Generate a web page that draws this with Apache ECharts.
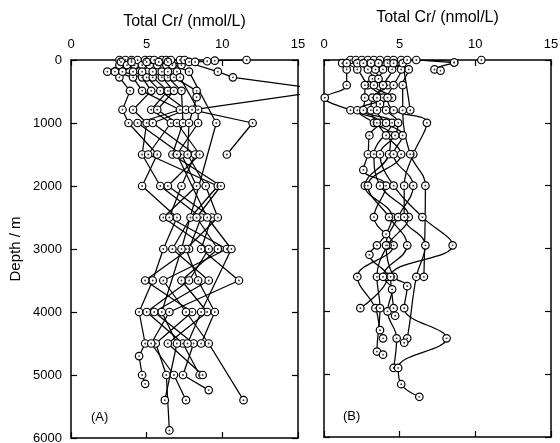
<!DOCTYPE html>
<html>
<head>
<meta charset="utf-8">
<script src="https://cdn.jsdelivr.net/npm/echarts/dist/echarts.min.js"></script>
<style>
  html, body { margin: 0; padding: 0; background: #fff; }
  #chart { width: 560px; height: 443px; }
</style>
</head>
<body>
<div id="chart"></div>
<script>
// each station: [depth (m), total Cr (nmol/L)]
// panel A
const A01 = [[0, 3.2], [80, 3.2], [185, 2.4], [275, 3.2], [490, 3.9], [790, 3.4], [1000, 3.8], [1500, 5.7], [2000, 4.7], [2500, 7.0], [3000, 6.1], [3500, 5.4], [4000, 4.5], [4500, 4.9], [4700, 4.5], [5000, 4.7], [5140, 4.9]];
const A02 = [[0, 3.6], [30, 3.3], [80, 3.7], [185, 2.9], [275, 4.1], [490, 4.7], [790, 7.2], [1000, 4.4], [1500, 7.3], [2000, 8.3], [2500, 6.1], [3000, 9.1], [3500, 7.8], [4000, 5.0], [4500, 7.4], [5000, 8.5]];
const A03 = [[0, 4.0], [80, 4.2], [185, 3.4], [275, 4.7], [490, 5.3], [790, 4.1], [1000, 5.0], [1500, 4.7], [2000, 5.9], [2500, 8.6], [3000, 7.8], [3500, 4.9], [4000, 8.0], [4500, 5.6], [5000, 6.3], [5880, 6.5]];
const A04 = [[0, 4.4], [30, 4.0], [80, 4.7], [185, 4.1], [275, 5.0], [490, 5.9], [790, 7.6], [1000, 5.4], [1500, 8.2], [2000, 7.3], [2500, 6.5], [3000, 10.3], [3500, 6.1], [4000, 7.6], [4500, 9.1], [5400, 11.4]];
const A05 = [[0, 4.9], [80, 5.2], [185, 4.7], [275, 5.4], [490, 6.4], [790, 5.3], [1000, 6.6], [1500, 5.1], [2000, 9.7], [2500, 7.9], [3000, 6.7], [3500, 9.1], [4000, 5.5], [4500, 8.1], [5000, 7.4], [5240, 9.1]];
const A06 = [[0, 5.2], [30, 5.0], [80, 5.7], [185, 5.4], [275, 6.0], [490, 6.8], [790, 5.7], [1000, 7.0], [1500, 8.5], [2000, 6.4], [2500, 9.3], [3000, 8.6], [3500, 11.1], [4000, 6.5], [4500, 5.3], [5000, 6.8], [5400, 7.6]];
const A07 = [[0, 5.5], [80, 6.3], [185, 6.0], [275, 6.4], [490, 7.3], [1000, 7.4], [1500, 6.7], [2000, 9.9], [2500, 8.3], [3000, 9.7], [3500, 7.3], [4000, 9.0], [4500, 6.4], [5000, 8.7]];
const A08 = [[0, 6.0], [30, 5.8], [80, 6.7], [185, 6.4], [275, 6.8], [490, 8.3], [590, 8.3], [1000, 7.8], [1500, 7.7], [2000, 8.9], [2500, 9.7], [3000, 7.6], [3500, 8.4], [4000, 9.5], [4500, 8.6]];
const A09 = [[0, 6.3], [80, 7.3], [185, 7.0], [275, 7.2], [790, 8.4], [1000, 8.4], [1500, 7.0], [2500, 9.0], [3000, 10.6], [4000, 8.6], [4500, 7.7]];
const A10 = [[0, 6.6], [30, 6.4], [185, 7.8], [1000, 9.6], [3000, 7.3], [4000, 6.0], [4500, 7.0], [5400, 6.2]];
const A11 = [[0, 7.2], [185, 9.7], [275, 10.7], [480, 17.0], [790, 8.0], [1000, 12.0], [1500, 10.3]];
const A12 = [[0, 7.5], [30, 7.8]];
const A13 = [[0, 11.6], [10, 9.5], [20, 9.0], [30, 8.2]];

// panel B
const B01 = [[0, 1.75], [50, 1.2], [150, 1.5], [400, 1.5], [600, 0.05], [800, 1.75], [1000, 3.7], [1200, 3.0], [1500, 2.9], [1750, 2.6], [2000, 4.1], [2500, 3.3], [2950, 4.6], [3450, 2.2], [3950, 3.4], [4300, 3.7], [4430, 3.9]];
const B02 = [[0, 2.1], [50, 1.5], [150, 2.2], [400, 2.9], [600, 3.9], [800, 2.2], [1000, 3.3], [1200, 4.4], [1500, 4.3], [2000, 2.7], [2500, 4.5], [2770, 4.1], [2950, 3.5], [3100, 3.0], [3450, 4.2], [3950, 2.4]];
const B03 = [[0, 2.5], [50, 2.2], [150, 2.9], [300, 3.2], [400, 2.7], [600, 2.7], [800, 2.6], [1000, 4.5], [1500, 3.3], [2000, 3.7], [2500, 5.6], [2950, 4.2], [3450, 3.5], [3950, 3.7], [4640, 3.5], [4690, 3.9]];
const B04 = [[0, 2.9], [50, 2.6], [150, 3.4], [300, 3.6], [400, 4.2], [600, 3.2], [800, 3.1], [1000, 3.5], [1200, 4.1], [1500, 5.1], [2000, 2.9], [2500, 4.3], [2950, 5.5], [3450, 3.9], [3650, 4.5], [4000, 4.2], [4430, 4.8], [4900, 4.6]];
const B05 = [[0, 3.3], [50, 3.1], [150, 3.9], [400, 3.3], [600, 4.5], [700, 3.7], [800, 3.5], [1000, 4.1], [1200, 5.2], [1500, 4.6], [2000, 5.9], [2500, 4.9], [2950, 4.1], [3450, 4.6], [3600, 5.5], [3950, 5.3], [4430, 8.1], [4900, 4.9], [5160, 5.1], [5360, 6.3]];
const B06 = [[0, 3.7], [50, 3.6], [150, 4.5], [400, 3.9], [600, 3.5], [800, 4.1], [1000, 4.9], [1200, 4.7], [1500, 3.7], [2000, 4.6], [2500, 6.5], [2950, 8.5], [3450, 4.4], [3950, 4.6], [4070, 4.7]];
const B07 = [[0, 4.2], [50, 4.2], [150, 5.1], [400, 4.6], [600, 4.2], [800, 4.6], [1000, 6.8], [1500, 5.9], [2000, 5.3], [2500, 5.3], [2950, 6.7], [3450, 6.1], [4430, 5.5], [4500, 5.3]];
const B08 = [[0, 4.6], [50, 4.6], [150, 5.6], [400, 5.2], [800, 5.2], [1500, 5.7], [2000, 6.7], [3450, 6.6]];
const B09 = [[0, 5.1], [50, 5.2], [800, 5.7]];
const B10 = [[0, 5.5], [40, 8.6], [150, 7.3], [170, 7.7]];
const B11 = [[0, 6.1], [40, 8.6]];
const B12 = [[0, 10.4]];

const stationsA = [A01, A02, A03, A04, A05, A06, A07, A08, A09, A10, A11, A12, A13];
const stationsB = [B01, B02, B03, B04, B05, B06, B07, B08, B09, B10, B11, B12];

const crTicks = [0, 5, 10, 15];
const depthTicks = [0, 1000, 2000, 3000, 4000, 5000, 6000];

const FONT = 'Liberation Sans';
const toXY = st => st.map(([d, v]) => [v, d]);

const chart = echarts.init(document.getElementById('chart'));

function xAxes(grid, gap) {
  const base = {
    gridIndex: grid,
    type: 'value',
    min: crTicks[0],
    max: crTicks[crTicks.length - 1],
    interval: crTicks[1] - crTicks[0],
    axisLine: { onZero: false, lineStyle: { color: '#000', width: 1.5 } },
    axisTick: { inside: true, length: 6, lineStyle: { color: '#000', width: 1.2 } },
    splitLine: { show: false }
  };
  return [
    Object.assign({}, base, {
      position: 'top',
      name: 'Total Cr/ (nmol/L)',
      nameLocation: 'middle',
      nameGap: gap,
      nameTextStyle: { color: '#000', fontSize: 16, fontFamily: FONT },
      axisLabel: { color: '#000', fontSize: 13, fontFamily: FONT, margin: 9 }
    }),
    Object.assign({}, base, { position: 'bottom', axisLabel: { show: false } })
  ];
}

function yAxes(grid, withLabels) {
  const base = {
    gridIndex: grid,
    type: 'value',
    inverse: true,
    min: depthTicks[0],
    max: depthTicks[depthTicks.length - 1],
    interval: depthTicks[1] - depthTicks[0],
    axisLine: { onZero: false, lineStyle: { color: '#000', width: 1.5 } },
    axisTick: { inside: true, length: 6, lineStyle: { color: '#000', width: 1.2 } },
    splitLine: { show: false }
  };
  const left = Object.assign({}, base, { position: 'left' });
  if (withLabels) {
    left.axisLabel = { color: '#000', fontSize: 13, fontFamily: FONT, margin: 9, formatter: v => String(v) };
    left.name = 'Depth / m';
    left.nameLocation = 'middle';
    left.nameGap = 48;
    left.nameTextStyle = { color: '#000', fontSize: 15, fontFamily: FONT };
  } else {
    left.axisLabel = { show: false };
  }
  return [left, Object.assign({}, base, { position: 'right', axisLabel: { show: false } })];
}

function panelSeries(stations, xi, yi, smooth) {
  const out = stations.map(st => ({
    type: 'line',
    xAxisIndex: xi,
    yAxisIndex: yi,
    data: toXY(st),
    showSymbol: false,
    smooth: smooth,
    clip: true,
    lineStyle: { color: '#000', width: 1.25 },
    z: 2
  }));
  const all = [].concat(...stations.map(toXY));
  out.push({
    type: 'scatter', xAxisIndex: xi, yAxisIndex: yi, data: all, clip: true,
    symbol: 'circle', symbolSize: 7.5,
    itemStyle: { color: '#fff', borderColor: '#000', borderWidth: 1.2, opacity: 1 },
    z: 3
  });
  out.push({
    type: 'scatter', xAxisIndex: xi, yAxisIndex: yi, data: all, clip: true,
    symbol: 'circle', symbolSize: 1.8,
    itemStyle: { color: '#333', opacity: 1 },
    z: 4
  });
  return out;
}

const option = {
  animation: false,
  backgroundColor: '#fff',
  grid: [
    { left: 71, top: 60, width: 227, height: 378, outerBoundsMode: 'none', containLabel: false },
    { left: 324, top: 60, width: 227, height: 377, outerBoundsMode: 'none', containLabel: false }
  ],
  xAxis: [].concat(xAxes(0, 30), xAxes(1, 34)),
  yAxis: [].concat(yAxes(0, true), yAxes(1, false)),
  series: [].concat(
    panelSeries(stationsA, 0, 0, false),
    panelSeries(stationsB, 2, 2, 0.4)
  ),
  graphic: [
    { type: 'text', left: 91, top: 411, style: { text: '(A)', fontSize: 13, fontFamily: FONT, fill: '#000' } },
    { type: 'text', left: 343, top: 410, style: { text: '(B)', fontSize: 13, fontFamily: FONT, fill: '#000' } }
  ]
};

chart.setOption(option);
</script>
</body>
</html>
